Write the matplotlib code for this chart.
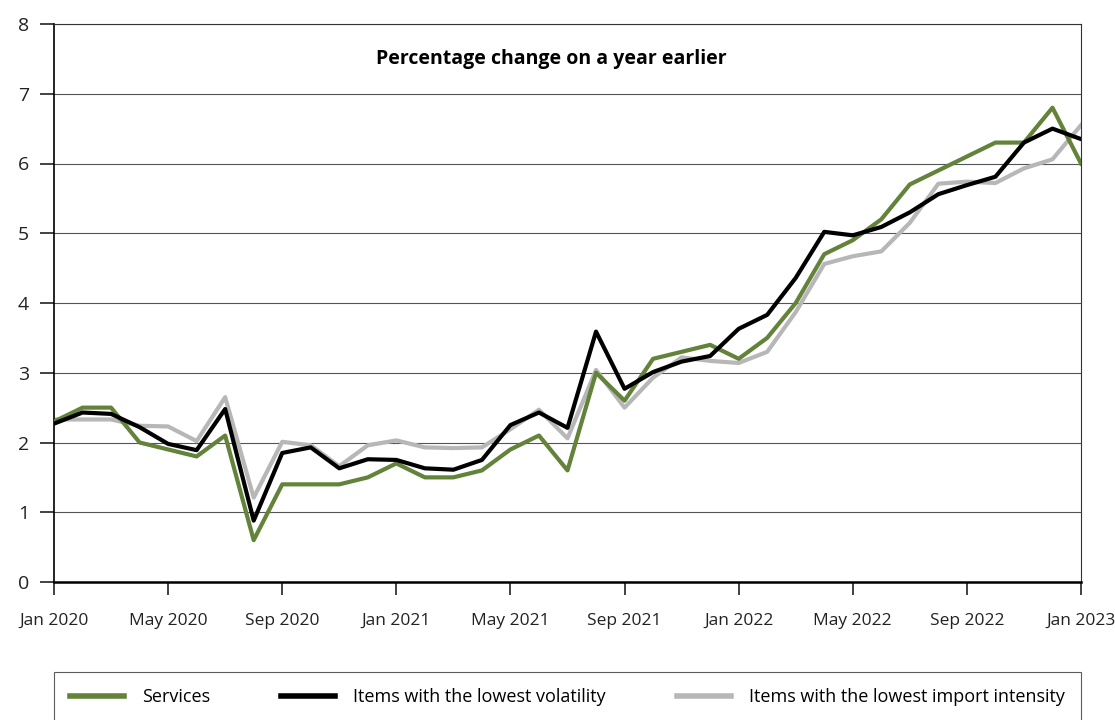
import matplotlib
matplotlib.use("Agg")
import matplotlib.pyplot as plt

plt.rcParams['font.family'] = ['Open Sans', 'DejaVu Sans']

months = list(range(37))
tick_pos = [0, 4, 8, 12, 16, 20, 24, 28, 32, 36]
tick_labels = ['Jan 2020', 'May 2020', 'Sep 2020', 'Jan 2021', 'May 2021',
               'Sep 2021', 'Jan 2022', 'May 2022', 'Sep 2022', 'Jan 2023']

services = [2.3, 2.5, 2.5, 2.0, 1.9, 1.8, 2.1, 0.6, 1.4, 1.4, 1.4, 1.5,
            1.7, 1.5, 1.5, 1.6, 1.9, 2.1, 1.6, 3.0, 2.6, 3.2, 3.3, 3.4,
            3.2, 3.5, 4.0, 4.7, 4.9, 5.2, 5.7, 5.9, 6.1, 6.3, 6.3, 6.8,
            6.0]
low_volatility = [2.27, 2.43, 2.41, 2.22, 1.98, 1.89, 2.48, 0.88, 1.85, 1.93, 1.63, 1.76,
                  1.75, 1.63, 1.61, 1.75, 2.25, 2.43, 2.21, 3.59, 2.77, 3.01, 3.16, 3.24,
                  3.63, 3.83, 4.36, 5.02, 4.97, 5.09, 5.3, 5.56, 5.69, 5.81, 6.3, 6.5,
                  6.35]
low_import = [2.33, 2.33, 2.33, 2.24, 2.23, 2.02, 2.65, 1.21, 2.01, 1.96, 1.66, 1.96,
              2.03, 1.93, 1.92, 1.93, 2.19, 2.47, 2.06, 3.04, 2.5, 2.93, 3.22, 3.17,
              3.14, 3.3, 3.87, 4.56, 4.67, 4.74, 5.15, 5.71, 5.74, 5.72, 5.93, 6.06,
              6.55]

fig = plt.figure(figsize=(11.15, 7.2), dpi=100)
ax = fig.add_axes([54 / 1115, 1 - 582 / 720, (1081 - 54) / 1115, (582 - 24) / 720])

ax.plot(months, services, color='#63823a', lw=3, label='Services', zorder=3)
ax.plot(months, low_volatility, color='black', lw=3,
        label='Items with the lowest volatility', zorder=4)
ax.plot(months, low_import, color='#b7b7b7', lw=3,
        label='Items with the lowest import intensity', zorder=2)

ax.set_xlim(0, 36)
ax.set_ylim(0, 8)
ax.set_xticks(tick_pos)
ax.set_xticklabels(tick_labels)
ax.set_yticks(range(9))
ax.yaxis.grid(True, color='#555555', lw=0.8)
ax.set_axisbelow(True)

for s in ['top', 'right']:
    ax.spines[s].set_linewidth(0.8)
    ax.spines[s].set_color('#333333')
ax.spines['left'].set_linewidth(1.2)
ax.spines['bottom'].set_linewidth(1.8)

ax.tick_params(axis='x', direction='out', length=9, width=1.2, pad=13,
               labelsize=12.5, colors='#222222')
ax.tick_params(axis='y', direction='out', length=10, width=1.2, pad=8,
               labelsize=14, colors='#222222')

fig.text(551 / 1115, 1 - 59 / 720, 'Percentage change on a year earlier',
         ha='center', va='center', fontsize=14, fontweight='bold')

leg = fig.legend(loc='upper left', mode='expand', borderaxespad=0,
                 bbox_to_anchor=(54 / 1115, 1 - 672 / 720 - 0.1, 1027 / 1115, 0.1),
                 ncol=3, fontsize=13, handlelength=3.0,
                 frameon=True, fancybox=False, borderpad=0.9, handletextpad=1.0)
leg.get_frame().set_edgecolor('#333333')
leg.get_frame().set_linewidth(0.8)
for line in leg.get_lines():
    line.set_linewidth(4)

fig.savefig('out.png', dpi=100)
